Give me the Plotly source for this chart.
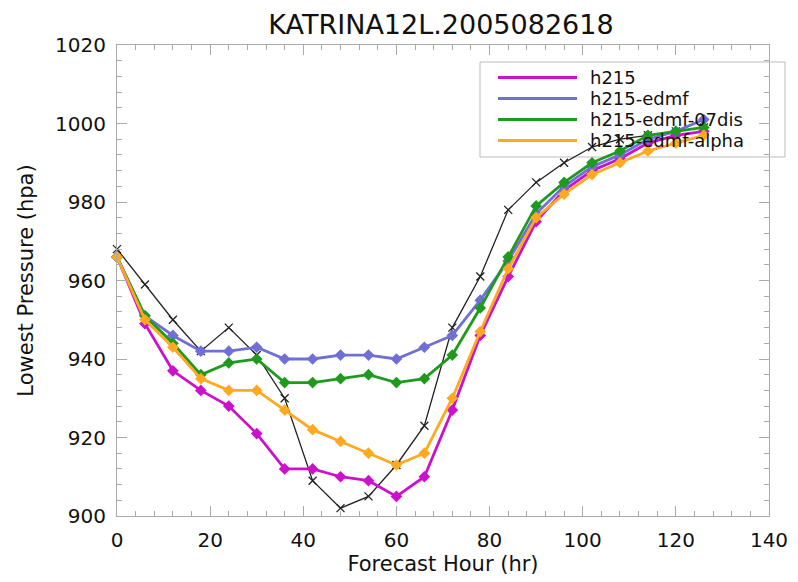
import plotly.graph_objects as go

# ---------------- data ----------------
hours = [0, 6, 12, 18, 24, 30, 36, 42, 48, 54, 60, 66, 72, 78, 84, 90, 96, 102, 108, 114, 120, 126]
obs = [968, 959, 950, 942, 948, 941, 930, 909, 902, 905, 913, 923, 948, 961, 978, 985, 990, 994, 996, 997, 998, 999]
h215 = [966, 949, 937, 932, 928, 921, 912, 912, 910, 909, 905, 910, 927, 946, 961, 975, 983, 988, 991, 995, 997, 998]
h215_edmf = [966, 951, 946, 942, 942, 943, 940, 940, 941, 941, 940, 943, 946, 955, 965, 977, 984, 989, 992, 996, 998, 1001]
h215_edmf_07dis = [966, 951, 944, 936, 939, 940, 934, 934, 935, 936, 934, 935, 941, 953, 966, 979, 985, 990, 993, 997, 998, 999]
h215_edmf_alpha = [966, 950, 943, 935, 932, 932, 927, 922, 919, 916, 913, 916, 930, 947, 963, 976, 982, 987, 990, 993, 995, 997]

names = ["h215", "h215-edmf", "h215-edmf-07dis", "h215-edmf-alpha"]
series = [h215, h215_edmf, h215_edmf_07dis, h215_edmf_alpha]
colors = ["#CC11CC", "#6F6FD6", "#1F9A1F", "#FFA91F"]

x_ticks = [0, 20, 40, 60, 80, 100, 120, 140]
y_ticks = [900, 920, 940, 960, 980, 1000, 1020]

title = "KATRINA12L.2005082618"
x_title = "Forecast Hour (hr)"
y_title = "Lowest Pressure (hpa)"

# ---------------- layout geometry ----------------
# the page body has an 8px margin, so the figure is drawn at (8, 8) in the window
OFF = 8
W, H = 790, 574
ML, MR, MT, MB = 109, 29, 37, 66
PW = W - ML - MR
PH = H - MT - MB

def px_x(sx):
    return (sx - OFF - ML) / PW

def px_y(sy):
    return (H - MB - (sy - OFF)) / PH

FONT = "DejaVu Sans"

fig = go.Figure()

# observed (black, x markers)
fig.add_trace(go.Scatter(
    x=hours, y=obs, mode="lines+markers", name="obs", showlegend=False,
    line=dict(color="#222222", width=1.3), cliponaxis=False,
    marker=dict(symbol="x-thin", size=8, line=dict(color="#222222", width=1.3)),
))

for nm, ys, c in zip(names, series, colors):
    fig.add_trace(go.Scatter(
        x=hours, y=ys, mode="lines+markers", name=nm, showlegend=False,
        line=dict(color=c, width=2.8), cliponaxis=False,
        marker=dict(symbol="diamond", size=9, color=c),
    ))

# ---------------- manual legend ----------------
shapes = [dict(type="rect", xref="paper", yref="paper",
               x0=px_x(480), x1=px_x(785), y0=px_y(157), y1=px_y(62),
               line=dict(color="#BBBBBB", width=1), fillcolor="white", layer="below")]
annotations = []
row_y = [77.5, 98.5, 119.5, 140.5]
for nm, c, ry in zip(names, colors, row_y):
    shapes.append(dict(type="line", xref="paper", yref="paper",
                       x0=px_x(498), x1=px_x(577), y0=px_y(ry), y1=px_y(ry),
                       line=dict(color=c, width=2.8), layer="below"))
    annotations.append(dict(xref="paper", yref="paper", x=px_x(589), y=px_y(ry),
                            xanchor="left", yanchor="middle", showarrow=False,
                            borderpad=0,
                            text=nm, font=dict(family=FONT, size=18, color="#111111")))

axis_common = dict(
    showline=True, linecolor="#AAAAAA", linewidth=1, mirror="ticks",
    ticks="inside", ticklen=10, tickcolor="#AAAAAA", tickwidth=1,
    showgrid=False, zeroline=False, automargin=False,
    tickfont=dict(family=FONT, size=20, color="#111111"),
)

fig.update_layout(
    width=W, height=H,
    margin=dict(l=ML, r=MR, t=MT, b=MB, pad=0, autoexpand=False),
    paper_bgcolor="white", plot_bgcolor="white",
    title=dict(text=title, x=(441 - OFF) / W, xanchor="center", xref="container",
               y=1 - (25 - OFF) / H, yanchor="middle", yref="container",
               font=dict(family=FONT, size=27, color="#111111")),
    xaxis=dict(range=[0, 140], tickvals=x_ticks, ticktext=[str(v) for v in x_ticks],
               minor=dict(ticks="inside", ticklen=5, dtick=4, tickcolor="#AAAAAA"),
               ticklabelstandoff=6,
               title=dict(text=x_title, font=dict(family=FONT, size=21, color="#111111"), standoff=4),
               **axis_common),
    yaxis=dict(range=[900, 1020], tickvals=y_ticks, ticktext=[str(v) for v in y_ticks],
               minor=dict(ticks="inside", ticklen=5, dtick=4, tickcolor="#AAAAAA"),
               ticklabelstandoff=6,
               title=dict(text=y_title, font=dict(family=FONT, size=21, color="#111111"), standoff=15),
               **axis_common),
    shapes=shapes,
    annotations=annotations,
    showlegend=False,
)

fig.write_html("out.html")
